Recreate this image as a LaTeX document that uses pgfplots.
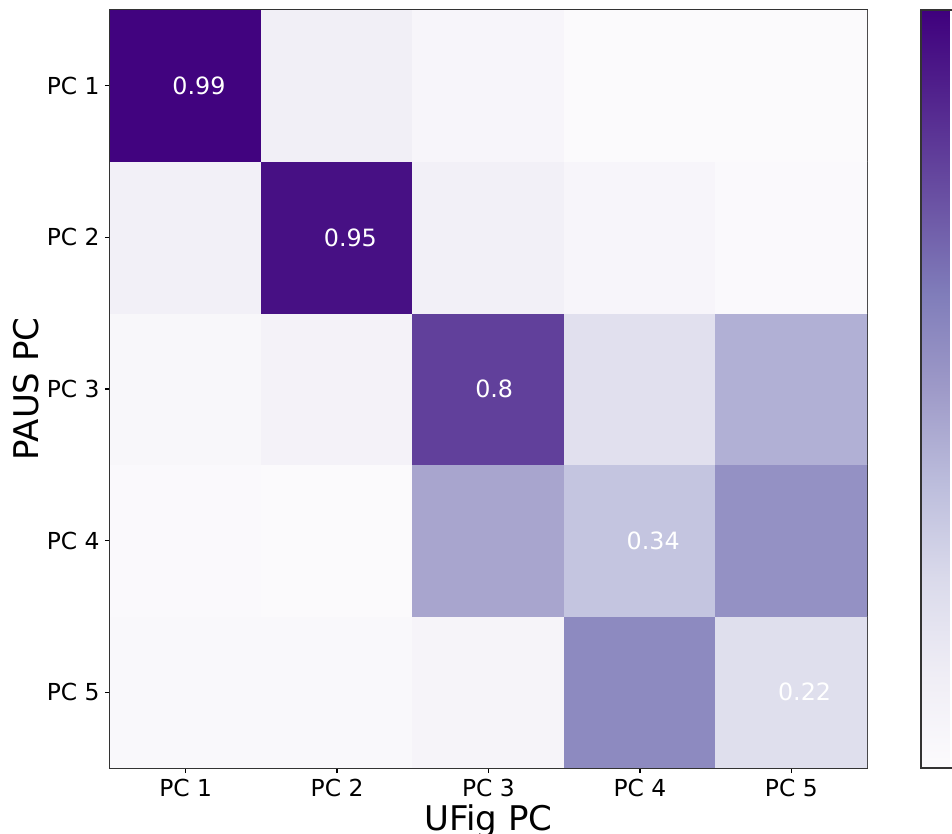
\documentclass[border=0pt]{standalone}
\usepackage{fontspec}
\setmainfont{DejaVu Sans}
\usepackage{pgfplots}
\pgfplotsset{compat=1.18}
\begin{document}
\begin{tikzpicture}
\begin{axis}[
  at={(0,0)}, anchor=south west,
  scale only axis, width=378.5pt, height=379pt,
  xmin=-0.5, xmax=4.5, ymin=-0.5, ymax=4.5,
  enlargelimits=false,
  colormap={purples}{rgb255=(252,251,253) rgb255=(239,237,245) rgb255=(218,218,235) rgb255=(188,189,220) rgb255=(158,154,200) rgb255=(128,125,186) rgb255=(106,81,163) rgb255=(84,39,143) rgb255=(63,0,125)},
  point meta min=0, point meta max=1,
  colorbar,
  colorbar style={at={(parent axis.north east)}, anchor=north west, xshift=18.5pt, width=22pt, ytick=\empty, axis line style={black!80, line width=0.6pt}},
  xtick={0,1,2,3,4}, xticklabels={PC 1,PC 2,PC 3,PC 4,PC 5},
  ytick={0,1,2,3,4}, yticklabels={PC 5,PC 4,PC 3,PC 2,PC 1},
  xtick pos=bottom, ytick pos=left,
  tick align=outside, major tick length=2.5pt,
  tick style={black, line width=0.6pt},
  axis line style={black!80, line width=0.6pt},
  ticklabel style={font=\fontsize{11.7}{14}\selectfont},
  xticklabel style={inner sep=3pt},
  yticklabel style={inner sep=2.5pt},
  xlabel={UFig PC}, ylabel={PAUS PC},
  every axis x label/.style={at={(axis description cs:0.5,-0.0818)}, anchor=base, font=\fontsize{17}{20}\selectfont},
  every axis y label/.style={at={(axis description cs:-0.0951,0.5)}, rotate=90, anchor=base, font=\fontsize{17}{20}\selectfont},
]
\addplot[matrix plot*, mesh/cols=5, point meta=explicit] table[meta=c]{
x y c
0 0 0.03
1 0 0.03
2 0 0.06
3 0 0.57
4 0 0.22
0 1 0.02
1 1 0.01
2 1 0.46
3 1 0.34
4 1 0.54
0 2 0.04
1 2 0.08
2 2 0.80
3 2 0.21
4 2 0.42
0 3 0.10
1 3 0.95
2 3 0.10
3 3 0.05
4 3 0.02
0 4 0.99
1 4 0.11
2 4 0.05
3 4 0.01
4 4 0.01
};
\node[anchor=west, inner sep=0pt, text=white, font=\fontsize{11.9}{14}\selectfont] at (axis cs:-0.09,4) {0.99};
\node[anchor=west, inner sep=0pt, text=white, font=\fontsize{11.9}{14}\selectfont] at (axis cs:0.91,3) {0.95};
\node[anchor=west, inner sep=0pt, text=white, font=\fontsize{11.9}{14}\selectfont] at (axis cs:1.91,2) {0.8};
\node[anchor=west, inner sep=0pt, text=white, font=\fontsize{11.9}{14}\selectfont] at (axis cs:2.91,1) {0.34};
\node[anchor=west, inner sep=0pt, text=white, font=\fontsize{11.9}{14}\selectfont] at (axis cs:3.91,0) {0.22};
\end{axis}
\pgfresetboundingbox
\useasboundingbox (-55pt,-33pt) rectangle (421pt,384pt);
\end{tikzpicture}
\end{document}
